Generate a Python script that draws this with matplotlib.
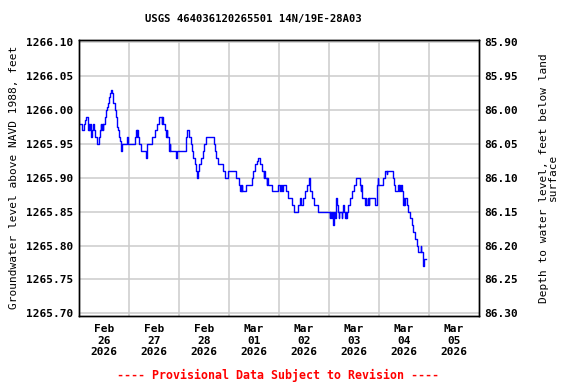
import matplotlib
matplotlib.use("Agg")
import matplotlib.pyplot as plt
import numpy as np

# hours since 2026-02-26 00:00 and groundwater level (ft above NAVD 1988)
hours = [0.0, 1.6, 2.3, 3.0, 3.5, 4.2, 4.5, 4.7, 4.9, 5.3, 5.6, 5.9, 6.2, 6.9, 7.2, 7.8, 8.8, 9.5,
         10.1, 10.4, 10.7, 11.0, 11.4, 11.7, 12.5, 12.8, 13.4, 13.9, 14.5, 15.0, 15.4, 15.7, 16.2,
         16.5, 17.4, 17.8, 18.4, 18.9, 19.3, 19.7, 20.0, 20.3, 20.6, 23.2, 23.7, 26.7, 27.4, 27.7,
         28.0, 28.5, 28.9, 29.6, 32.2, 32.8, 34.9, 36.5, 37.6, 38.3, 39.7, 40.0, 40.5, 41.1, 41.8,
         42.1, 42.4, 43.1, 43.3, 43.5, 43.8, 46.4, 47.2, 51.2, 52.0, 52.8, 53.6, 54.1, 54.7, 55.7,
         56.2, 56.5, 57.1, 57.6, 58.4, 59.5, 60.1, 60.8, 64.6, 65.3, 66.0, 66.7, 68.9, 70.1, 71.5,
         75.4, 76.9, 77.4, 77.6, 77.9, 78.1, 78.4, 80.0, 82.9, 83.4, 84.5, 85.3, 85.8, 86.9, 88.0,
         88.8, 89.0, 89.3, 90.1, 90.4, 90.6, 92.8, 95.4, 96.7, 97.0, 97.2, 98.0, 99.4, 100.1,
         102.0, 103.2, 105.0, 106.1, 106.4, 107.7, 108.5, 109.3, 110.6, 110.7, 110.9, 111.8,
         112.8, 114.9, 120.5, 120.6, 121.0, 121.3, 121.8, 122.1, 122.3, 122.6, 123.1, 123.4,
         123.5, 124.0, 124.3, 124.7, 125.0, 126.1, 126.4, 126.9, 127.4, 127.7, 128.0, 128.3,
         128.5, 129.3, 130.1, 130.9, 132.0, 133.0, 134.9, 135.2, 135.5, 135.7, 136.0, 137.3,
         137.6, 137.9, 138.9, 139.1, 139.3, 142.1, 142.9, 143.4, 143.7, 146.1, 146.9, 147.7,
         147.8, 150.6, 151.2, 151.8, 153.3, 153.5, 153.7, 154.1, 154.6, 154.9, 155.4, 155.7,
         155.9, 156.2, 156.5, 157.3, 158.1, 158.9, 159.7, 160.5, 161.3, 162.1, 162.9, 164.0,
         164.3, 165.0, 165.3, 165.6, 166.4]
levels = [1265.980, 1265.970, 1265.980, 1265.985, 1265.990, 1265.980, 1265.970, 1265.980, 1265.970,
          1265.980, 1265.970, 1265.960, 1265.970, 1265.980, 1265.970, 1265.960, 1265.950, 1265.960,
          1265.970, 1265.980, 1265.970, 1265.980, 1265.970, 1265.980, 1265.990, 1266.000, 1266.005,
          1266.010, 1266.020, 1266.025, 1266.030, 1266.025, 1266.020, 1266.010, 1266.000, 1265.990,
          1265.975, 1265.970, 1265.960, 1265.955, 1265.950, 1265.940, 1265.950, 1265.960, 1265.950,
          1265.960, 1265.970, 1265.960, 1265.970, 1265.960, 1265.950, 1265.940, 1265.930, 1265.950,
          1265.960, 1265.970, 1265.980, 1265.990, 1265.980, 1265.990, 1265.980, 1265.970, 1265.960,
          1265.970, 1265.960, 1265.950, 1265.940, 1265.950, 1265.940, 1265.930, 1265.940, 1265.960,
          1265.970, 1265.960, 1265.950, 1265.940, 1265.930, 1265.920, 1265.910, 1265.900, 1265.910,
          1265.920, 1265.930, 1265.940, 1265.950, 1265.960, 1265.950, 1265.940, 1265.930, 1265.920,
          1265.910, 1265.900, 1265.910, 1265.900, 1265.890, 1265.880, 1265.890, 1265.880, 1265.890,
          1265.880, 1265.890, 1265.900, 1265.910, 1265.920, 1265.925, 1265.930, 1265.920, 1265.910,
          1265.900, 1265.910, 1265.900, 1265.890, 1265.900, 1265.890, 1265.880, 1265.890, 1265.880,
          1265.890, 1265.880, 1265.890, 1265.880, 1265.870, 1265.860, 1265.850, 1265.860, 1265.870,
          1265.860, 1265.870, 1265.880, 1265.890, 1265.900, 1265.890, 1265.880, 1265.870, 1265.860,
          1265.850, 1265.840, 1265.850, 1265.840, 1265.850, 1265.840, 1265.830, 1265.840, 1265.850,
          1265.840, 1265.860, 1265.870, 1265.860, 1265.850, 1265.840, 1265.850, 1265.840, 1265.850,
          1265.860, 1265.850, 1265.840, 1265.850, 1265.840, 1265.850, 1265.860, 1265.870, 1265.880,
          1265.890, 1265.900, 1265.890, 1265.880, 1265.890, 1265.880, 1265.870, 1265.860, 1265.870,
          1265.860, 1265.870, 1265.860, 1265.870, 1265.860, 1265.890, 1265.900, 1265.890, 1265.900,
          1265.910, 1265.905, 1265.910, 1265.900, 1265.890, 1265.880, 1265.890, 1265.880, 1265.890,
          1265.880, 1265.890, 1265.880, 1265.870, 1265.860, 1265.870, 1265.860, 1265.870, 1265.860,
          1265.850, 1265.840, 1265.830, 1265.820, 1265.810, 1265.800, 1265.790, 1265.800, 1265.790,
          1265.780, 1265.770, 1265.780, 1265.780]

land_surface = 1352.00
left_ticks = [1265.70, 1265.75, 1265.80, 1265.85, 1265.90, 1265.95, 1266.00, 1266.05, 1266.10]
right_ticks = [85.90, 85.95, 86.00, 86.05, 86.10, 86.15, 86.20, 86.25, 86.30]
x_tick_labels = ["Feb\n26\n2026", "Feb\n27\n2026", "Feb\n28\n2026", "Mar\n01\n2026",
                 "Mar\n02\n2026", "Mar\n03\n2026", "Mar\n04\n2026", "Mar\n05\n2026"]

title = "USGS 464036120265501 14N/19E-28A03"
ylabel_left = "Groundwater level above NAVD 1988, feet"
ylabel_right = "Depth to water level, feet below land\nsurface"
footer = "---- Provisional Data Subject to Revision ----"

plt.rcParams['font.family'] = ['DejaVu Sans Mono']
plt.rcParams['font.weight'] = 'bold'

fig = plt.figure(figsize=(5.76, 3.84), dpi=100)
ax = fig.add_axes([79/576, 1-316/384, 400/576, 276.3/384])

ymin, ymax = 1265.696, 1266.104
ax.set_xlim(0, 192)
ax.set_ylim(ymin, ymax)

grid_c = '#cccccc'
for yv in left_ticks:
    ax.axhline(yv, color=grid_c, lw=1.1, zorder=1)
for d in range(1, 8):
    ax.axvline(24*d, color=grid_c, lw=1.1, zorder=1)

ax.step(hours, levels, where='post', color='#0000ff', lw=1.0, zorder=3)

ax.set_yticks(left_ticks)
ax.set_yticklabels([f"{v:.2f}" for v in left_ticks])
ax.set_xticks([12 + 24*i for i in range(8)])
ax.set_xticklabels(x_tick_labels, linespacing=1.15)
ax.tick_params(axis='both', length=0, labelsize=8, pad=4)
ax.tick_params(axis='x', pad=6)
for s in ax.spines.values():
    s.set_linewidth(1.0)
    s.set_color('black')

ax.set_ylabel(ylabel_left, fontsize=8, labelpad=5)

ax2 = ax.twinx()
ax2.set_ylim(land_surface - ymin, land_surface - ymax)
ax2.set_yticks(right_ticks)
ax2.set_yticklabels([f"{v:.2f}" for v in right_ticks])
ax2.tick_params(axis='y', length=0, labelsize=8, pad=4)
ax2.set_ylabel(ylabel_right, fontsize=8, rotation=90, labelpad=15, linespacing=0.9)
for s in ax2.spines.values():
    s.set_linewidth(1.0)

fig.text(253 / 576, 1 - 19/384, title, ha='center', va='center', fontsize=7.6)
fig.text(278 / 576, 1 - 375/384, footer, ha='center', va='center',
         fontsize=8.4, color='#ff0000')

fig.savefig("out.png", dpi=100)
